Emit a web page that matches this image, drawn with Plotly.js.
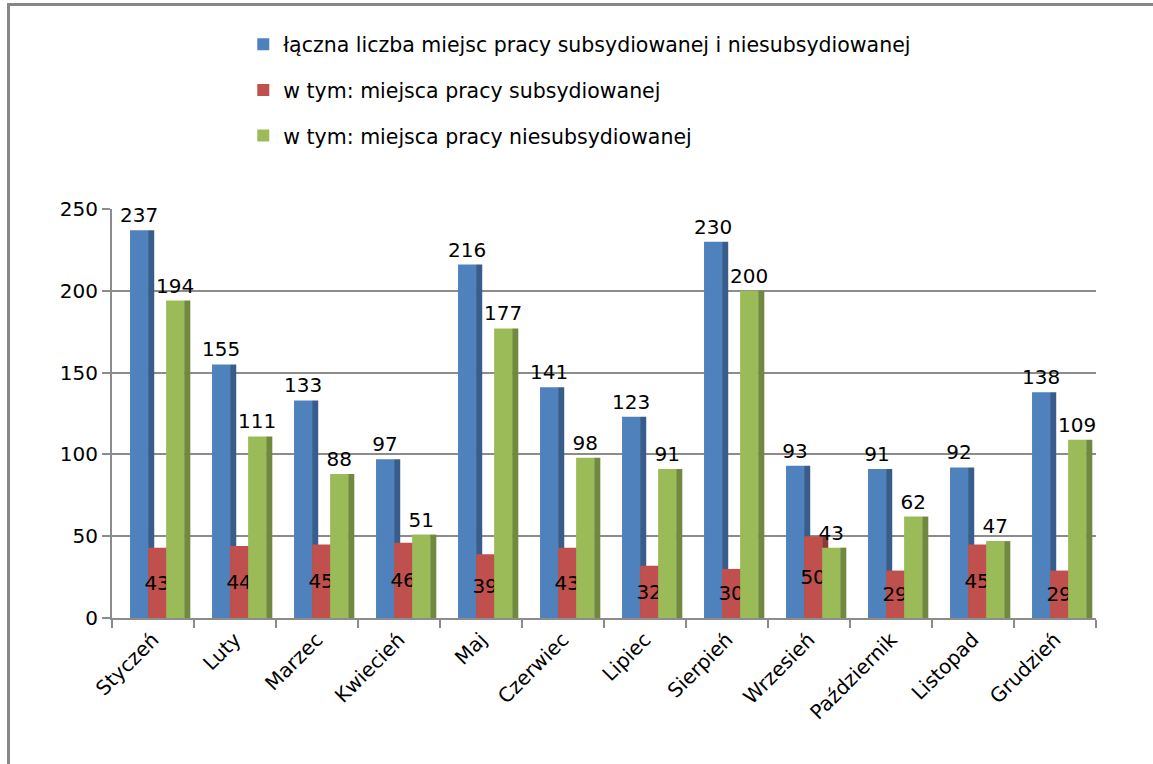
<!DOCTYPE html>
<html>
<head>
<meta charset="utf-8">
<script src="https://cdn.plot.ly/plotly-3.0.1.min.js"></script>
<style>
  html, body { margin: 0; padding: 0; background: #ffffff; }
  #chart { width: 1153px; height: 764px; position: relative; }
  .bl { position: absolute; left: 7px; top: 3px; width: 3px; height: 770px; background: #878787; pointer-events: none; }
  .bt { position: absolute; left: 7px; top: 3px; width: 1160px; height: 3px; background: #878787; pointer-events: none; }
</style>
</head>
<body>
<div id="chart"></div>
<div class="bl"></div>
<div class="bt"></div>
<script>
const months = ["Styczeń", "Luty", "Marzec", "Kwiecień", "Maj", "Czerwiec", "Lipiec", "Sierpień", "Wrzesień", "Październik", "Listopad", "Grudzień"];
const totalJobs = [237, 155, 133, 97, 216, 141, 123, 230, 93, 91, 92, 138];
const subsidized = [43, 44, 45, 46, 39, 43, 32, 30, 50, 29, 45, 29];
const unsubsidized = [194, 111, 88, 51, 177, 98, 91, 200, 43, 62, 47, 109];

const seriesNames = [
  "łączna liczba miejsc pracy subsydiowanej i niesubsydiowanej",
  "w tym: miejsca pracy subsydiowanej",
  "w tym: miejsca pracy niesubsydiowanej"
];
const colors = ["#4F81BD", "#C0504D", "#9BBB59"];
const sides = ["#385D8A", "#8C3836", "#71893F"];
const FONT = "DejaVu Sans, sans-serif";

const FRONT_W = 0.22;
const SIDE_W = 0.075;
const offsets = [-0.28, -0.06, 0.16];
const textPos = ["outside", "inside", "outside"];
const seriesVals = [totalJobs, subsidized, unsubsidized];

const data = [];
seriesVals.forEach(function (vals, i) {
  // darker side face (3D depth look)
  data.push({
    type: "bar",
    x: months,
    y: vals,
    width: SIDE_W,
    offset: offsets[i] + FRONT_W,
    marker: { color: sides[i], line: { width: 0 } },
    showlegend: false,
    legendgroup: "g" + i,
    hoverinfo: "skip"
  });
  // front face
  data.push({
    type: "bar",
    x: months,
    y: vals,
    width: FRONT_W,
    offset: offsets[i],
    name: seriesNames[i],
    legendgroup: "g" + i,
    marker: { color: colors[i], line: { width: 0 } },
    text: vals.map(String),
    textposition: textPos[i],
    textangle: 0,
    insidetextanchor: "middle",
    constraintext: "none",
    cliponaxis: false,
    textfont: { family: FONT, size: 20, color: "#000000" },
    hoverinfo: "x+y+name"
  });
});

const layout = {
  width: 1153,
  height: 764,
  paper_bgcolor: "#ffffff",
  plot_bgcolor: "#ffffff",
  font: { family: FONT, size: 20, color: "#000000" },
  margin: { l: 112, r: 57, t: 209, b: 146, autoexpand: false },
  barmode: "overlay",
  showlegend: true,
  legend: {
    xref: "container", yref: "container",
    x: 0.211, y: 0.968, xanchor: "left", yanchor: "top",
    orientation: "v",
    traceorder: "grouped",
    tracegroupgap: 16,
    font: { family: FONT, size: 20.5, color: "#000000" },
    itemwidth: 30,
    bgcolor: "rgba(0,0,0,0)"
  },
  xaxis: {
    type: "category",
    tickangle: -45,
    showline: true,
    linecolor: "#8C8C8C",
    linewidth: 2,
    ticks: "outside",
    tickson: "boundaries",
    ticklen: 8,
    tickwidth: 2,
    tickcolor: "#8C8C8C",
    showgrid: false,
    automargin: false,
    tickfont: { family: FONT, size: 20, color: "#000000" }
  },
  yaxis: {
    range: [0, 250],
    tickvals: [0, 50, 100, 150, 200, 250],
    showline: true,
    linecolor: "#8C8C8C",
    linewidth: 2,
    ticks: "outside",
    ticklen: 8,
    tickwidth: 2,
    tickcolor: "#8C8C8C",
    showgrid: true,
    gridcolor: "#8C8C8C",
    gridwidth: 2,
    zeroline: false,
    automargin: false,
    tickfont: { family: FONT, size: 20, color: "#000000" }
  }
};

Plotly.newPlot("chart", data, layout, { displayModeBar: false, responsive: false });
</script>
</body>
</html>
